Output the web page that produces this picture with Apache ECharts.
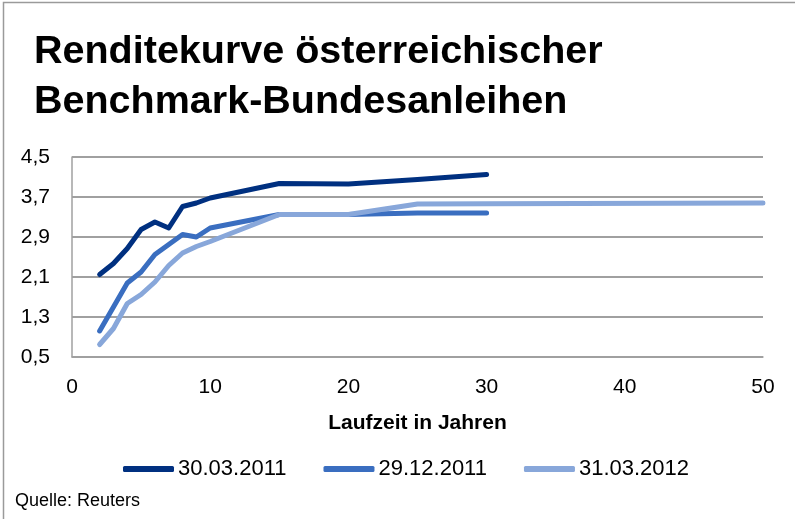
<!DOCTYPE html>
<html>
<head>
<meta charset="utf-8">
<script src="https://cdn.jsdelivr.net/npm/echarts@6/dist/echarts.min.js"></script>
<style>
  html, body { margin: 0; padding: 0; background: #fff; }
  #chart { width: 795px; height: 519px; }
</style>
</head>
<body>
<div id="chart"></div>
<script>
  // Laufzeit (Jahre) und Renditen (%)
  var maturities = [2, 3, 4, 5, 6, 7, 8, 9, 10, 15, 20, 25, 30]
  var maturities2012 = [2, 3, 4, 5, 6, 7, 8, 9, 10, 15, 20, 25, 30, 50]
  var yields20110330 = [2.15, 2.37, 2.67, 3.05, 3.2, 3.08, 3.51, 3.58, 3.68, 3.97, 3.96, 4.05, 4.15]
  var yields20111229 = [1.02, 1.5, 1.98, 2.2, 2.55, 2.75, 2.95, 2.9, 3.08, 3.35, 3.35, 3.38, 3.38]
  var yields20120331 = [0.75, 1.07, 1.57, 1.75, 2.0, 2.33, 2.58, 2.71, 2.81, 3.35, 3.35, 3.56, 3.565, 3.58]
  var seriesNames = ['30.03.2011', '29.12.2011', '31.03.2012']
  var colors = ['#003080', '#3a6ec0', '#88a7da']

  function pairs (xs, ys) {
    return xs.map(function (x, i) { return [x, ys[i]] })
  }

  var font = 'Liberation Sans'
  var myChart = echarts.init(document.getElementById('chart'))
  var option = {
    animation: false,
    color: colors,
    title: [{
      text: 'Renditekurve österreichischer\nBenchmark-Bundesanleihen',
      left: 29,
      top: 22,
      textStyle: {
        fontFamily: font,
        fontWeight: 'bold',
        fontSize: 39.5,
        lineHeight: 50,
        color: '#000'
      }
    }, {
      text: 'Quelle: Reuters',
      left: 10,
      top: 487,
      textStyle: {
        fontFamily: font,
        fontWeight: 'normal',
        fontSize: 18,
        color: '#000'
      }
    }],
    legend: {
      left: 118,
      top: 453,
      itemWidth: 51,
      itemHeight: 6,
      itemGap: 37,
      icon: 'roundRect',
      data: seriesNames,
      textStyle: {
        fontFamily: font,
        fontSize: 22,
        color: '#000',
        padding: [0, 0, 0, -1]
      }
    },
    grid: {
      left: 72,
      width: 691,
      top: 157,
      height: 200,
      containLabel: false
    },
    xAxis: {
      type: 'value',
      min: 0,
      max: 50,
      interval: 10,
      name: 'Laufzeit in Jahren',
      nameLocation: 'middle',
      nameGap: 56,
      nameTextStyle: {
        fontFamily: font,
        fontWeight: 'bold',
        fontSize: 21,
        color: '#000'
      },
      axisLine: { show: true, lineStyle: { color: '#a0a0a0', width: 1.5 } },
      axisTick: { show: false },
      splitLine: { show: false },
      axisLabel: {
        margin: 20,
        fontFamily: font,
        fontSize: 21,
        color: '#000'
      }
    },
    yAxis: {
      type: 'value',
      min: 0.5,
      max: 4.5,
      interval: 0.8,
      axisLine: { show: true, lineStyle: { color: '#a0a0a0', width: 1.5 } },
      axisTick: { show: false },
      splitLine: { show: true, lineStyle: { color: '#a0a0a0', width: 2 } },
      axisLabel: {
        margin: 22,
        fontFamily: font,
        fontSize: 21,
        color: '#000',
        formatter: function (v) {
          return v.toFixed(1).replace('.', ',')
        }
      }
    },
    graphic: [{
      type: 'polyline',
      shape: { points: [[3.5, 519], [3.5, 2.5], [795, 2.5]] },
      style: { stroke: '#9a9a9a', lineWidth: 1.5, fill: null }
    }],
    series: [{
      name: seriesNames[0],
      type: 'line',
      symbol: 'none',
      data: pairs(maturities, yields20110330),
      lineStyle: { width: 5, cap: 'round', join: 'round' }
    }, {
      name: seriesNames[1],
      type: 'line',
      symbol: 'none',
      data: pairs(maturities, yields20111229),
      lineStyle: { width: 5, cap: 'round', join: 'round' }
    }, {
      name: seriesNames[2],
      type: 'line',
      symbol: 'none',
      data: pairs(maturities2012, yields20120331),
      lineStyle: { width: 5, cap: 'round', join: 'round' }
    }]
  }
  myChart.setOption(option)
  window.onresize = function () {
    myChart.resize()
  }
</script>
</body>
</html>
